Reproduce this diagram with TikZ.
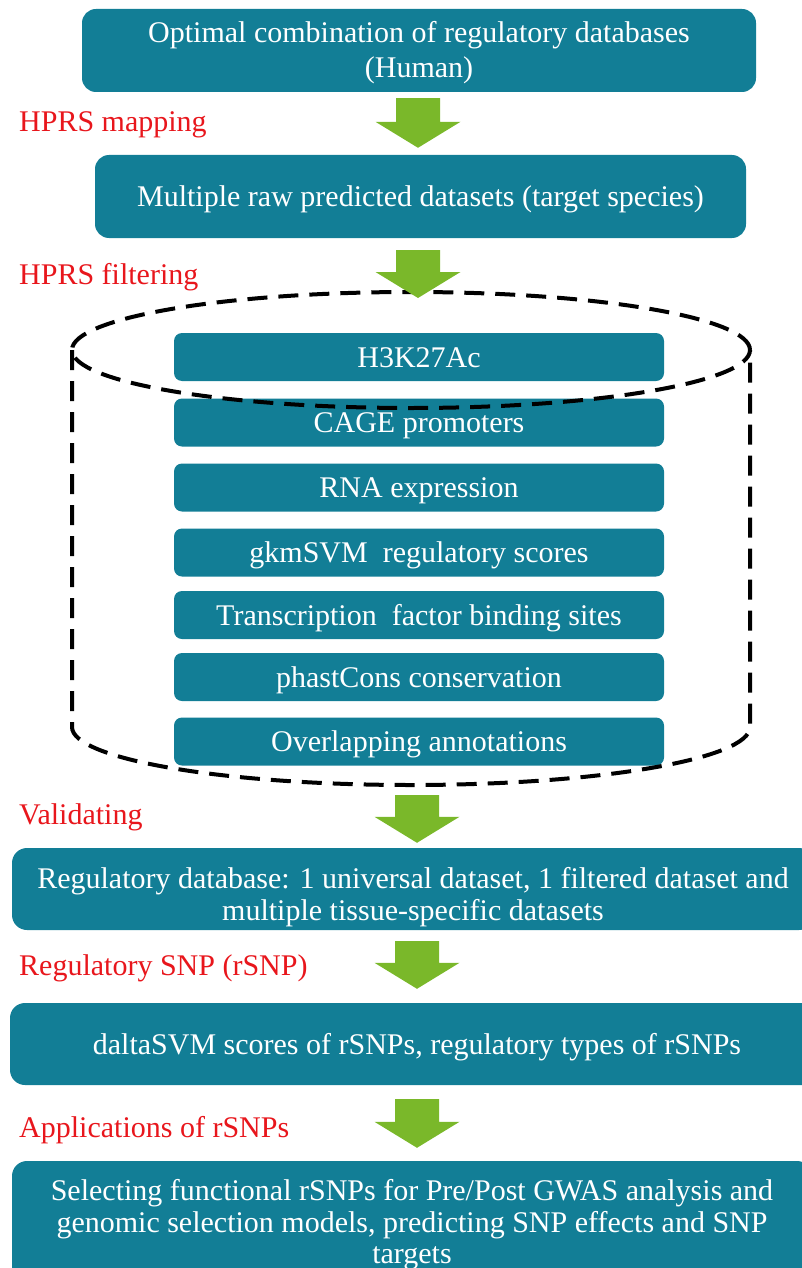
\documentclass[tikz,border=0pt]{standalone}
\usepackage{fontspec}
\setmainfont{Liberation Serif}
\usetikzlibrary{calc}
\definecolor{tealbox}{RGB}{18,126,150}
\definecolor{agreen}{RGB}{122,184,42}
\definecolor{lred}{RGB}{232,22,28}
\newcommand\garrow[2]{%
  \fill[agreen] ($(#1)+(-22,0)$) -- ($(#1)+(22,0)$) -- ($(#2)+(22,26)$) -- ($(#2)+(42.5,26)$)
    -- (#2) -- ($(#2)+(-42.5,26)$) -- ($(#2)+(-22,26)$) -- cycle;}
\begin{document}
\begin{tikzpicture}[x=1pt,y=1pt,
  font=\fontsize{30}{35}\selectfont,
  box/.style={fill=tealbox, rounded corners=14pt, inner sep=0pt, text=white},
  sbox/.style={box, rounded corners=8pt, minimum width=490pt, minimum height=48pt, text height=20pt, text depth=0pt},
  txt/.style={text=white, inner sep=0pt, anchor=base},
  lab/.style={text=lred, inner sep=0pt, anchor=base west},
  cyl/.style={line width=4pt, dash pattern=on 20pt off 11pt}
]
\useasboundingbox (0,0) rectangle (802,-1268);

% top boxes
\node[box, minimum width=674pt, minimum height=83pt] (b1) at (419,-50.5) {};
\node[txt] (b1a) at (419,-43) {Optimal combination of regulatory databases};
\node[txt] (b1b) at (419,-78) {(Human)};

\node[box, minimum width=651pt, minimum height=83pt, text height=20pt, text depth=0pt] (b2) at (420.5,-196.5) {Multiple raw predicted datasets (target species)};

% inner boxes
\node[sbox] (i1) at (419,-357) {H3K27Ac};
\node[sbox] (i2) at (419,-422.5) {CAGE promoters};
\node[sbox] (i3) at (419,-487.5) {RNA expression};
\node[sbox] (i4) at (419,-552.5) {gkmSVM\ \ regulatory scores};
\node[sbox] (i5) at (419,-615) {Transcription\ \ factor binding sites};
\node[sbox] (i6) at (419,-677) {phastCons conservation};
\node[sbox] (i7) at (419,-741.5) {Overlapping annotations};

% cylinder
\draw[cyl] (411,-350) ellipse [x radius=339, y radius=58];
\draw[cyl] (72,-350) -- (72,-727) arc[start angle=180, end angle=360, x radius=339, y radius=58] -- (750,-350);

% lower boxes
\node[box, rounded corners=15pt, minimum width=802pt, minimum height=82pt] (b3) at (413,-889) {};
\node[txt] (b3a) at (413,-888) {Regulatory database: 1 universal dataset, 1 filtered dataset and};
\node[txt] (b3b) at (413,-920) {multiple tissue-specific datasets};

\node[box, rounded corners=15pt, minimum width=814pt, minimum height=82pt, text height=20pt, text depth=0pt] (b4) at (417,-1044) {daltaSVM scores of rSNPs, regulatory types of rSNPs};

\node[box, rounded corners=15pt, minimum width=800pt, minimum height=140pt] (b5) at (412,-1231) {};
\node[txt] (b5a) at (412,-1200) {Selecting functional rSNPs for Pre/Post GWAS analysis and};
\node[txt] (b5b) at (412,-1232) {genomic selection models, predicting SNP effects and SNP};
\node[txt] (b5c) at (412,-1263) {targets};

% arrows
\coordinate (a1s) at ([xshift=-1pt,yshift=-6pt]b1.south);
\coordinate (a1e) at ([xshift=-2.5pt,yshift=7pt]b2.north);
\coordinate (a2s) at ([xshift=-2.5pt,yshift=-12pt]b2.south);
\coordinate (cyltop) at (418,-298);
\coordinate (cylbot) at (417,-795);
\coordinate (a3e) at ([xshift=4pt,yshift=5pt]b3.north);
\coordinate (a4s) at ([xshift=4pt,yshift=-11pt]b3.south);
\coordinate (a4e) at ([yshift=14pt]b4.north);
\coordinate (a5s) at ([yshift=-14pt]b4.south);
\coordinate (a5e) at ([xshift=5pt,yshift=13pt]b5.north);
\garrow{a1s}{a1e}
\garrow{a2s}{cyltop}
\garrow{cylbot}{a3e}
\garrow{a4s}{a4e}
\garrow{a5s}{a5e}

% labels
\node[lab] (l1) at (19,-132) {HPRS mapping};
\node[lab] (l2) at (19,-284) {HPRS filtering};
\node[lab] (l3) at (19,-824) {Validating};
\node[lab] (l4) at (19,-975) {Regulatory SNP (rSNP)};
\node[lab] (l5) at (19,-1137) {Applications of rSNPs};
\end{tikzpicture}
\end{document}
